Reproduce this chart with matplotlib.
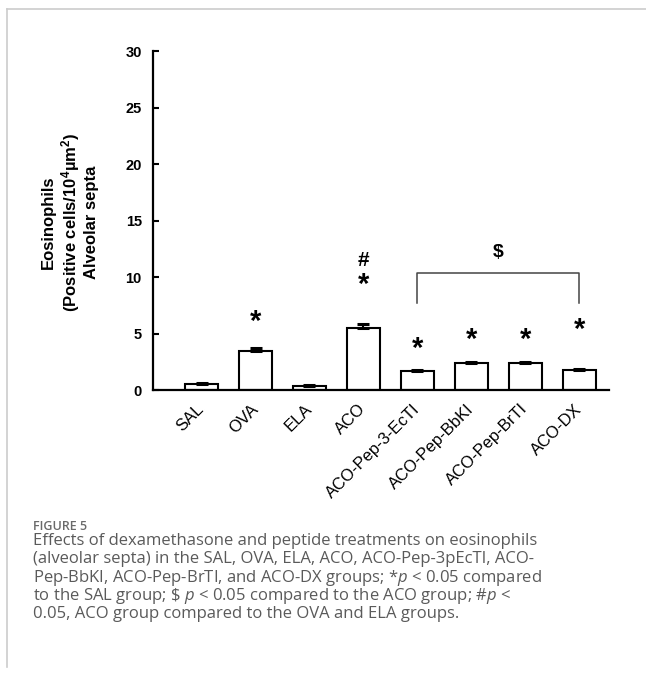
import matplotlib
matplotlib.use("Agg")
import matplotlib.pyplot as plt
import matplotlib.transforms as mtransforms
from matplotlib.lines import Line2D
import numpy as np

plt.rcParams['font.family'] = ['Liberation Sans', 'DejaVu Sans']
plt.rcParams['mathtext.fontset'] = 'custom'
plt.rcParams['mathtext.rm'] = 'Open Sans'
plt.rcParams['mathtext.it'] = 'Open Sans:italic'
plt.rcParams['mathtext.bf'] = 'Liberation Sans:bold'

# group means and SEM (eosinophils, alveolar septa)
groups = ['SAL', 'OVA', 'ELA', 'ACO', 'ACO-Pep-3-EcTI', 'ACO-Pep-BbKI', 'ACO-Pep-BrTI', 'ACO-DX']
means = [0.5, 3.48, 0.38, 5.5, 1.66, 2.42, 2.42, 1.76]
sem = [0.1, 0.25, 0.1, 0.3, 0.14, 0.1, 0.1, 0.1]

# significance marks: group index -> height of the symbol
star_idx = [1, 3, 4, 5, 6, 7]
star_y = [6.0, 9.3, 3.6, 4.4, 4.4, 5.3]
hash_idx = 3
hash_y = 11.5
bracket_from, bracket_to = 4, 7
bracket_top, bracket_low = 10.4, 7.7
dollar_y = 12.2

fig = plt.figure(figsize=(6.46, 6.75), dpi=100)
ax = fig.add_axes([0.2368, 0.4222, 0.706, 0.5022])

x = np.arange(len(groups))
ax.bar(x, means, width=0.62, color='white', edgecolor='black', linewidth=1.5, zorder=2)
ax.errorbar(x, means, yerr=[np.zeros(len(sem)), sem], fmt='none', ecolor='black',
            elinewidth=1.5, capsize=4, capthick=2.2, zorder=3)

for i, yv in zip(star_idx, star_y):
    ax.text(x[i], yv, '*', ha='center', va='center', fontsize=21, fontweight='bold')
ax.text(x[hash_idx], hash_y, '#', ha='center', va='center', fontsize=15, fontweight='bold')

# bracket ACO-Pep/ACO-DX vs ACO
ax.plot([x[bracket_from], x[bracket_from], x[bracket_to], x[bracket_to]],
        [bracket_low, bracket_top, bracket_top, bracket_low], color='#444444', lw=1.1)
ax.text((x[bracket_from] + x[bracket_to]) / 2, dollar_y, r'\$', ha='center', va='center',
        fontsize=14, fontweight='bold')

ax.set_xlim(-0.9, 7.55)
ax.set_ylim(0, 30)
ax.set_yticks(range(0, 31, 5))
ax.set_xticks(x)
ax.set_xticklabels(groups, rotation=45, ha='right', va='center', rotation_mode='anchor',
                   fontsize=12)
# nudge the slanted labels a little to the right
shift = mtransforms.ScaledTranslation(6 / 100, 0, fig.dpi_scale_trans)
for lbl in ax.get_xticklabels():
    lbl.set_transform(lbl.get_transform() + shift)
for lbl in ax.get_yticklabels():
    lbl.set_fontweight('bold')
ax.tick_params(axis='y', direction='in', length=4, width=1.5, labelsize=10.5, pad=8)
ax.tick_params(axis='x', length=0, pad=12)
for s in ['top', 'right']:
    ax.spines[s].set_visible(False)
for s in ['left', 'bottom']:
    ax.spines[s].set_linewidth(1.6)

fig.text(70 / 646, 1 - 222 / 675,
         'Eosinophils\n(Positive cells/10$^{\\mathbf{4}}$µm$^{\\mathbf{2}}$)\nAlveolar septa',
         rotation=90, ha='center', va='center', multialignment='center',
         fontsize=12, fontweight='bold')

# caption block
cap_color = '#5a5a5a'
fig.text(33 / 646, 1 - 527 / 675, 'FIGURE 5', fontsize=9, color='#6a6a6a',
         fontweight='semibold', family='Open Sans', va='center')
caption = [
    'Effects of dexamethasone and peptide treatments on eosinophils',
    '(alveolar septa) in the SAL, OVA, ELA, ACO, ACO-Pep-3pEcTI, ACO-',
    'Pep-BbKI, ACO-Pep-BrTI, and ACO-DX groups; *$\\mathit{p}$ < 0.05 compared',
    'to the SAL group; \\$ $\\mathit{p}$ < 0.05 compared to the ACO group; #$\\mathit{p}$ <',
    '0.05, ACO group compared to the OVA and ELA groups.',
]
for k, line in enumerate(caption):
    fig.text(33 / 646, 1 - (541 + 18.3 * k) / 675, line, fontsize=12, color=cap_color,
             family='Open Sans', va='center')

# page frame lines
fig.add_artist(Line2D([7 / 646, 1], [1 - 9 / 675] * 2, color='#cccccc', lw=1.2))
fig.add_artist(Line2D([7 / 646] * 2, [1 - 9 / 675, 1 - 667 / 675], color='#cccccc', lw=1.2))

fig.savefig('out.png', dpi=100)
